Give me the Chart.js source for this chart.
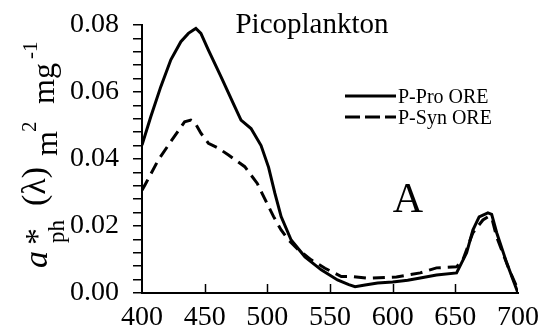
<!DOCTYPE html>
<html>
<head>
<meta charset="utf-8">
<script src="https://cdn.jsdelivr.net/npm/chart.js@4.4.1/dist/chart.umd.min.js"></script>
<style>
	html, body { margin: 0; padding: 0; background: #fff; }
	#wrap { width: 539px; height: 333px; position: relative; }
</style>
</head>
<body>
<div id="wrap"><canvas id="chart" width="539" height="333"></canvas></div>
<script>
// wavelengths (nm) and absorption values
var proWavelengths = [400, 407, 415, 423, 431, 437, 441, 443, 447, 453, 463, 474, 479, 487, 495, 501, 506, 511, 519, 530, 543, 556, 565, 570, 578, 588, 600, 612, 622, 635, 651, 659, 664, 669, 676, 679, 683, 691, 697, 700];
var proValues = [0.0442, 0.0526, 0.0616, 0.0696, 0.0750, 0.0775, 0.0785, 0.0790, 0.0775, 0.0725, 0.0646, 0.0556, 0.0516, 0.0491, 0.0440, 0.0375, 0.0298, 0.0228, 0.0158, 0.0108, 0.0069, 0.0039, 0.0025, 0.0019, 0.0024, 0.0030, 0.0033, 0.0038, 0.0045, 0.0054, 0.0060, 0.0120, 0.0188, 0.0227, 0.0239, 0.0235, 0.0180, 0.0090, 0.0030, 0.0];

var synWavelengths = [400, 403, 413, 423, 434, 439, 442, 447, 453, 461, 469, 482, 492, 496, 501, 505, 511, 517, 525, 535, 546, 559, 567, 580, 603, 622, 635, 651, 656, 664, 672, 676, 679, 683, 693, 699, 700];
var synValues = [0.0307, 0.0327, 0.0397, 0.0452, 0.0511, 0.0516, 0.0510, 0.0477, 0.0447, 0.0432, 0.0412, 0.0377, 0.0327, 0.0296, 0.0258, 0.0228, 0.0188, 0.0158, 0.0128, 0.0099, 0.0074, 0.0049, 0.0049, 0.0044, 0.0048, 0.0060, 0.0075, 0.0078, 0.0099, 0.0180, 0.0218, 0.0227, 0.0225, 0.0167, 0.0069, 0.0018, 0.0];

var seriesLabels = ["P-Pro ORE", "P-Syn ORE"];
var xTickValues = [400, 450, 500, 550, 600, 650, 700];
var yTickLabels = ["0.00", "0.02", "0.04", "0.06", "0.08"];
var chartTitle = "Picoplankton";
var panelLetter = "A";

var SERIF = '"Liberation Serif", "Times New Roman", serif';

function toPoints(xs, ys) {
	return xs.map((x, i) => ({ x: x, y: ys[i] }));
}

//* draws inward x ticks, title, legend, panel letter and the y axis title
const decorPlugin = {
	id: "decor",
	afterDraw(chart) {
		const ctx = chart.ctx;
		const xs = chart.scales.x;
		const area = chart.chartArea;
		ctx.save();
		ctx.strokeStyle = "#000";
		ctx.lineWidth = 1.5;
		xTickValues.slice(1, -1).forEach(function (v) {
			const px = Math.round(xs.getPixelForValue(v)) + 0.5;
			ctx.beginPath();
			ctx.moveTo(px, area.bottom);
			ctx.lineTo(px, area.bottom - 9);
			ctx.stroke();
		});

		ctx.fillStyle = "#000";
		ctx.textBaseline = "alphabetic";
		ctx.textAlign = "center";
		ctx.font = "29px " + SERIF;
		ctx.fillText(chartTitle, 312, 33);

		ctx.font = "42px " + SERIF;
		ctx.fillText(panelLetter, 408, 212);

		// legend
		ctx.textAlign = "left";
		ctx.font = "20px " + SERIF;
		ctx.lineWidth = 2.8;
		const rows = [{ y: 96, dash: [] }, { y: 117, dash: [15, 5] }];
		rows.forEach(function (r, i) {
			ctx.setLineDash(r.dash);
			ctx.beginPath();
			ctx.moveTo(345, r.y);
			ctx.lineTo(396, r.y);
			ctx.stroke();
			ctx.fillText(chart.data.datasets[i].label, 398, r.y + 7);
		});
		ctx.setLineDash([]);

		// y axis title, rotated
		const pieces = [
			{ t: "a", f: "italic 34px ", x: 47, y: 268 },
			{ t: "*", f: "34px ", x: 48, y: 245 },
			{ t: "ph", f: "23px ", x: 64, y: 243 },
			{ t: "(\u03bb)", f: "34px ", x: 45, y: 206 },
			{ t: "m", f: "32px ", x: 57, y: 156 },
			{ t: "2", f: "21px ", x: 36, y: 132 },
			{ t: "mg", f: "32px ", x: 54, y: 104 },
			{ t: "-1", f: "21px ", x: 37, y: 59 },
		];
		pieces.forEach(function (p) {
			ctx.save();
			ctx.translate(p.x, p.y);
			ctx.rotate(-Math.PI / 2);
			ctx.font = p.f + SERIF;
			ctx.fillText(p.t, 0, 0);
			ctx.restore();
		});
		ctx.restore();
	},
};

const config = {
	type: "line",
	data: {
		datasets: [
			{
				label: seriesLabels[0],
				data: toPoints(proWavelengths, proValues),
				borderColor: "#000",
				borderWidth: 3,
				pointRadius: 0,
				tension: 0,
			},
			{
				label: seriesLabels[1],
				data: toPoints(synWavelengths, synValues),
				borderColor: "#000",
				borderWidth: 3,
				borderDash: [12, 7],
				pointRadius: 0,
				tension: 0,
			},
		],
	},
	options: {
		responsive: false,
		animation: false,
		devicePixelRatio: 1,
		layout: {
			padding: { top: 25, right: 21, left: 0, bottom: 0 },
		},
		plugins: {
			legend: { display: false },
			title: { display: false },
			tooltip: { enabled: false },
		},
		scales: {
			x: {
				type: "linear",
				min: 400,
				max: 700,
				afterFit: function (scale) {
					scale.height = 40;
					scale.paddingLeft = 0;
					scale.paddingRight = 0;
				},
				afterBuildTicks: function (scale) {
					scale.ticks = xTickValues.map((v) => ({ value: v }));
				},
				grid: { display: true, drawOnChartArea: false, drawTicks: false },
				border: { display: true, color: "#000", width: 2 },
				ticks: {
					color: "#000",
					font: { family: SERIF, size: 28 },
					padding: 8,
					maxRotation: 0,
					autoSkip: false,
				},
			},
			y: {
				type: "linear",
				min: 0,
				max: 0.08,
				afterFit: function (scale) {
					scale.width = 142;
					scale.paddingTop = 0;
					scale.paddingBottom = 0;
				},
				afterBuildTicks: function (scale) {
					var t = [];
					for (var i = 0; i <= 20; i++) t.push({ value: i * 0.004 });
					scale.ticks = t;
				},
				grid: {
					display: true,
					drawOnChartArea: false,
					drawTicks: true,
					tickLength: 9,
					color: "#000",
					lineWidth: 1.5,
				},
				border: { display: true, color: "#000", width: 2 },
				ticks: {
					color: "#000",
					font: { family: SERIF, size: 28 },
					padding: 14,
					autoSkip: false,
					callback: function (value, index) {
						return index % 5 === 0 ? yTickLabels[index / 5] : "";
					},
				},
			},
		},
	},
	plugins: [decorPlugin],
};

var chart = new Chart(document.getElementById("chart"), config);
</script>
</body>
</html>
